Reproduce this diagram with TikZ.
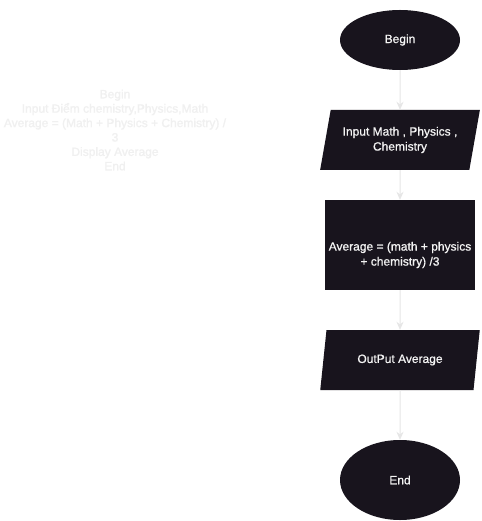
\documentclass[tikz,border=0pt]{standalone}
\usepackage{fontspec}
\setmainfont{Liberation Sans}
\newfontfamily\heavyfont[FakeBold=0.8]{Liberation Sans}
\usetikzlibrary{shapes.geometric,arrows.meta}
\definecolor{shapefill}{HTML}{18141D}
\definecolor{labeltext}{HTML}{F4F4F4}
\definecolor{edgegray}{HTML}{E6E6E6}
\definecolor{notetext}{HTML}{F0F0F0}
\begin{document}
\begin{tikzpicture}[x=1pt,y=-1pt,
  base/.style={fill=shapefill,draw=none,text=labeltext,align=center,
    font=\heavyfont\fontsize{12}{15}\selectfont,inner sep=0pt},
  terminal/.style={base,ellipse,minimum width=120pt},
  iobox/.style={base,trapezium,trapezium left angle=71.565,trapezium right angle=108.435,
    trapezium stretches=true,minimum width=160pt,minimum height=60pt},
  procbox/.style={base,rectangle,minimum width=150pt,minimum height=90pt},
  plaintext/.style={text=labeltext,align=center,font=\heavyfont\fontsize{12}{15}\selectfont,inner sep=0pt},
  arr/.style={draw=edgegray,line width=1pt,-{Stealth[length=8pt,width=7pt,fill=edgegray]}},
  note/.style={text=notetext,align=center,font=\heavyfont\fontsize{12}{14.4}\selectfont,inner sep=0pt}]
\useasboundingbox (0,0) rectangle (481,521);
\fill[white] (0,0) rectangle (481,521);

\node[note] (notes) at (115,130) {Begin\\Input Điểm chemistry,Physics,Math\\Average = (Math + Physics + Chemistry) /\\3\\Display Average\\End};

\node[terminal,minimum height=60pt] (begin) at (400,40) {Begin};
\node[iobox] (input) at (400,140) {Input Math , Physics ,\\Chemistry};
\node[procbox] (calc) at (400,245) {};
\node[plaintext] (calctext) at (400,255) {Average = (math + physics\\+ chemistry) /3};
\node[iobox] (output) at (400,360) {OutPut Average};
\node[terminal,minimum height=80pt] (end) at (400,480) {End};

\draw[arr] (begin.south) -- (input.north);
\draw[arr] (input.south) -- (calc.north);
\draw[arr] (calc.south) -- (output.north);
\draw[arr] (output.south) -- (end.north);
\end{tikzpicture}
\end{document}
